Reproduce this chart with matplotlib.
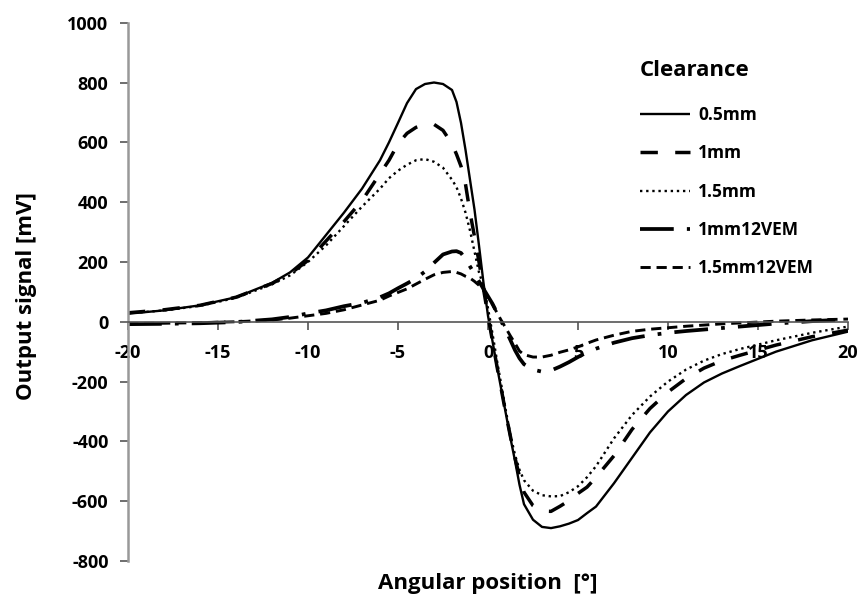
import matplotlib
matplotlib.use("Agg")
import matplotlib.pyplot as plt

angle = [-20, -18, -16, -14, -12, -11, -10, -9, -8, -7,
         -6, -5.5, -5, -4.5, -4, -3.5, -3, -2.5, -2, -1.75,
         -1.5, -1.25, -1, -0.75, -0.5, -0.25, 0, 0.25, 0.5, 0.75,
         1, 1.25, 1.5, 1.75, 2, 2.5, 3, 3.5, 4, 4.5,
         5, 5.5, 6, 7, 8, 9, 10, 11, 12, 13,
         14, 16, 18, 20]

s_05mm = [27, 38, 55, 82, 130, 165, 215, 290, 365, 445,
          540, 600, 665, 731, 778, 795, 800, 795, 775, 735,
          665, 575, 475, 375, 255, 130, 20, -65, -150, -230,
          -310, -390, -465, -545, -610, -662, -686, -690, -684, -675,
          -663, -640, -618, -540, -455, -370, -300, -245, -203, -173,
          -148, -100, -62, -33]
s_1mm = [30, 40, 55, 82, 128, 160, 205, 270, 335, 405,
         495, 540, 595, 630, 650, 660, 660, 640, 595, 560,
         520, 460, 365, 285, 200, 110, 20, -65, -150, -230,
         -310, -385, -455, -518, -570, -615, -633, -634, -617, -598,
         -574, -553, -520, -448, -360, -290, -235, -190, -155, -130,
         -112, -78, -50, -28]
s_15mm = [28, 38, 53, 80, 125, 155, 200, 255, 320, 385,
          445, 480, 505, 525, 540, 544, 535, 515, 475, 450,
          412, 365, 305, 235, 165, 120, 45, -40, -130, -215,
          -300, -380, -445, -495, -530, -565, -580, -584, -583, -570,
          -550, -520, -483, -390, -312, -250, -200, -160, -130, -108,
          -91, -62, -37, -16]
s_1mm12 = [-8, -7, -5, -1, 8, 16, 28, 38, 52, 63,
           82, 95, 112, 128, 145, 168, 197, 225, 235, 236,
           230, 210, 185, 160, 135, 110, 85, 60, 30, 0,
           -30, -62, -95, -122, -142, -160, -167, -163, -150, -135,
           -118, -102, -90, -70, -55, -45, -37, -31, -26, -21,
           -16, -6, 2, 8]
s_15mm12 = [-6, -5, -3, 0, 6, 12, 20, 28, 40, 56,
            72, 86, 98, 110, 126, 142, 157, 165, 168, 165,
            160, 152, 146, 135, 122, 105, 82, 58, 30, 3,
            -22, -48, -72, -98, -110, -118, -118, -112, -102, -94,
            -84, -72, -61, -45, -32, -25, -20, -15, -11, -7,
            -4, 2, 6, 9]

labels = ["0.5mm", "1mm", "1.5mm", "1mm12VEM", "1.5mm12VEM"]
legend_title = "Clearance"
xticks = [-20, -15, -10, -5, 0, 5, 10, 15, 20]
yticks = [-800, -600, -400, -200, 0, 200, 400, 600, 800, 1000]

FONT = "Open Sans"
plt.rcParams['font.family'] = [FONT, 'DejaVu Sans']
plt.rcParams['axes.unicode_minus'] = False

fig = plt.figure(figsize=(8.61, 5.99), dpi=100)
W, H = 861, 599
ax = fig.add_axes([128 / W, 38 / H, 720 / W, 538.3 / H])

k = dict(color='black', solid_capstyle='butt', dash_capstyle='butt', solid_joinstyle='round')
ax.plot(angle, s_05mm, lw=1.7, ls='-', label=labels[0], **k)
ax.plot(angle, s_1mm, lw=2.5, ls=(0, (5, 5)), label=labels[1], **k)
ax.plot(angle, s_15mm, lw=1.7, ls=(0, (1, 1.6)), label=labels[2], **k)
ax.plot(angle, s_1mm12, lw=2.7, ls=(0, (9, 3.5, 1, 3.5)), label=labels[3], **k)
ax.plot(angle, s_15mm12, lw=2.1, ls=(0, (3.5, 2)), label=labels[4], **k)

ax.set_xlim(-20, 20)
ax.set_ylim(-800, 1000)
ax.set_xticks(xticks)
ax.set_yticks(yticks)

for sp in ['top', 'right']:
    ax.spines[sp].set_visible(False)
ax.spines['bottom'].set_position(('data', 0))
ax.spines['bottom'].set_color('#555555')
ax.spines['bottom'].set_linewidth(1.2)
ax.spines['left'].set_color('#999999')
ax.spines['left'].set_linewidth(1.8)

ax.tick_params(axis='x', direction='out', length=6, width=1.2, color='#555555', pad=10,
               labelsize=13)
ax.tick_params(axis='y', direction='out', length=6, width=1.2, color='#555555', pad=8,
               labelsize=13)
for t in ax.get_xticklabels() + ax.get_yticklabels():
    t.set_fontweight('bold')

fig.text(488 / W, 1 - 583 / H, "Angular position  [°]", fontsize=16, fontweight='bold',
         ha='center', va='center')
fig.text(27 / W, 1 - 296 / H, "Output signal [mV]", fontsize=16, fontweight='bold',
         ha='center', va='center', rotation=90)

fig.text(640 / W, 1 - 71 / H, legend_title, fontsize=16, fontweight='bold',
         ha='left', va='center')
leg = ax.legend(loc='upper left', bbox_to_anchor=(640 / W, 1 - 106 / H), bbox_transform=fig.transFigure,
                frameon=False, fontsize=12.5, handlelength=2.9, handletextpad=0.45,
                labelspacing=1.17, borderpad=0, borderaxespad=0)
for t in leg.get_texts():
    t.set_fontweight('bold')

fig.savefig("out.png", dpi=100)
